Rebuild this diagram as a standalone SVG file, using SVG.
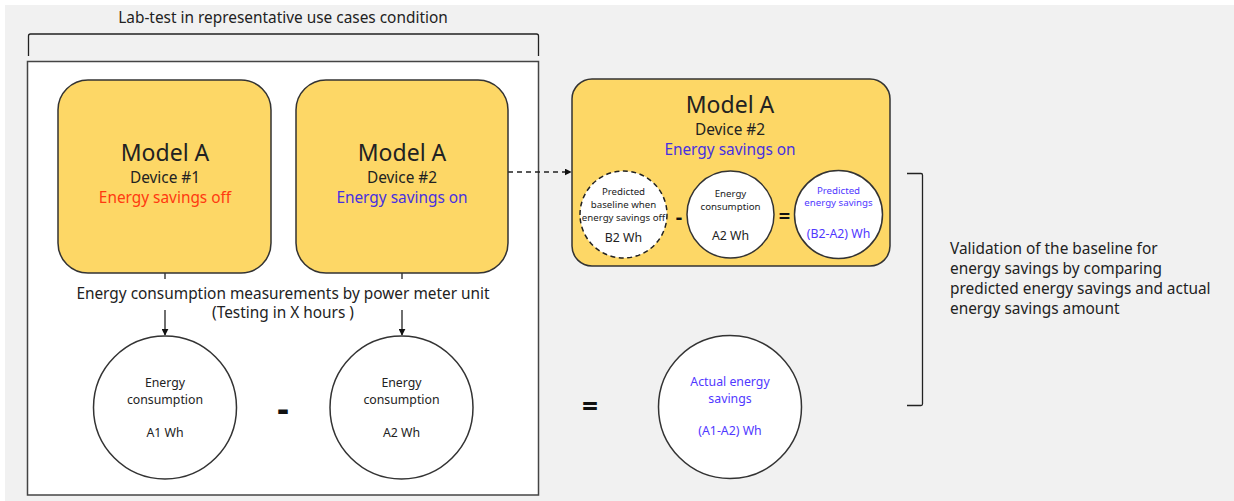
<svg xmlns="http://www.w3.org/2000/svg" width="1234" height="501" viewBox="0 0 1234 501">
<defs>
<style>
text{font-family:"Noto Sans","Liberation Sans",sans-serif;fill:#222;text-anchor:middle}
.yb{fill:#fdd766;stroke:#333;stroke-width:1.5}
.c{fill:#fff;stroke:#333;stroke-width:1.5}
.ln{stroke:#222;stroke-width:1.3;fill:none}
.big{font-size:23px}
.mid{font-size:15.4px}
.sm{font-size:12.3px}
.xs{font-size:9.7px}
.red{fill:#ff3a10}
.blue{fill:#4630e0}
.lb{fill:#5038ff}
.op{font-weight:bold;font-size:28px;fill:#111}
</style>
<marker id="ah" viewBox="0 0 10 10" refX="9" refY="5" markerWidth="7" markerHeight="7" orient="auto" markerUnits="userSpaceOnUse">
<path d="M0,0 L10,5 L0,10 z" fill="#111"/>
</marker>
</defs>
<rect x="0" y="0" width="1234" height="501" fill="#fff"/>
<rect x="5" y="5" width="1229" height="496" fill="#f1f1f1"/>

<g id="title">
<text x="283" y="23" class="mid">Lab-test in representative use cases condition</text>
<path class="ln" d="M28.5,56 V36 Q28.5,34 30.5,34 H536.5 Q538.5,34 538.5,36 V56"/>
</g>

<g id="labbox">
<rect x="27.5" y="61.5" width="511" height="433.5" fill="#fff" stroke="#444" stroke-width="1.5"/>
</g>

<g id="connectors">
<line class="ln" x1="165" y1="273" x2="165" y2="279"/>
<line class="ln" x1="165" y1="310" x2="165" y2="335" marker-end="url(#ah)"/>
<line class="ln" x1="402" y1="273" x2="402" y2="279"/>
<line class="ln" x1="402" y1="310" x2="402" y2="335" marker-end="url(#ah)"/>
<line class="ln" x1="508" y1="172" x2="571" y2="172" stroke-dasharray="5,4" marker-end="url(#ah)"/>
</g>

<g id="device1">
<rect class="yb" x="58" y="80" width="213" height="193" rx="30"/>
<text x="165" y="161" class="big">Model A</text>
<text x="165" y="183" class="mid">Device #1</text>
<text x="165" y="203" class="mid red">Energy savings off</text>
</g>

<g id="device2">
<rect class="yb" x="296" y="80" width="212" height="193" rx="30"/>
<text x="402" y="161" class="big">Model A</text>
<text x="402" y="183" class="mid">Device #2</text>
<text x="402" y="203" class="mid blue">Energy savings on</text>
</g>

<g id="measurement-label">
<text x="283" y="299" class="mid">Energy consumption measurements by power meter unit</text>
<text x="283" y="318" class="mid">(Testing in X hours )</text>
</g>

<g id="a1">
<circle class="c" cx="165" cy="407.5" r="71.5"/>
<text x="165" y="387" class="sm">Energy</text>
<text x="165" y="404" class="sm">consumption</text>
<text x="165" y="437" class="sm">A1 Wh</text>
</g>
<text x="283" y="421" class="op" style="font-size:36px">-</text>
<g id="a2">
<circle class="c" cx="401.5" cy="407.5" r="71.5"/>
<text x="401.5" y="387" class="sm">Energy</text>
<text x="401.5" y="404" class="sm">consumption</text>
<text x="401.5" y="437" class="sm">A2 Wh</text>
</g>
<text x="590" y="416" class="op">=</text>

<g id="actual">
<circle class="c" cx="730" cy="407" r="71.5"/>
<text x="730" y="386" class="sm lb">Actual energy</text>
<text x="730" y="403" class="sm lb">savings</text>
<text x="730" y="435" class="sm lb">(A1-A2) Wh</text>
</g>

<g id="predicted-box">
<rect class="yb" x="572" y="79" width="318" height="187" rx="20"/>
<text x="730" y="113" class="big">Model A</text>
<text x="730" y="135" class="mid">Device #2</text>
<text x="730" y="155" class="mid blue">Energy savings on</text>
</g>

<g id="b2">
<circle cx="623.5" cy="214.5" r="43.5" fill="#fff" stroke="#222" stroke-width="1.5" stroke-dasharray="5,3.5"/>
<text x="623.5" y="195" class="xs">Predicted</text>
<text x="623.5" y="208" class="xs">baseline when</text>
<text x="623.5" y="221" class="xs">energy savings off</text>
<text x="623.5" y="242" class="sm">B2 Wh</text>
</g>
<text x="679" y="224" class="op" style="font-size:20px">-</text>
<g id="a2p">
<circle class="c" cx="730.5" cy="214.5" r="43.5"/>
<text x="730.5" y="197" class="xs">Energy</text>
<text x="730.5" y="210" class="xs">consumption</text>
<text x="730.5" y="240" class="sm">A2 Wh</text>
</g>
<text x="784.5" y="223" class="op" style="font-size:20px">=</text>
<g id="b2a2">
<circle class="c" cx="838.5" cy="214.5" r="44"/>
<text x="838.5" y="194" class="xs lb">Predicted</text>
<text x="838.5" y="206" class="xs lb">energy savings</text>
<text x="838.5" y="238" class="sm lb">(B2-A2) Wh</text>
</g>

<g id="validation">
<path class="ln" d="M907,173.5 H921 Q922.5,173.5 922.5,175 V404 Q922.5,405.5 921,405.5 H907"/>
<text x="950" y="254" class="mid" style="text-anchor:start">Validation of the baseline for</text>
<text x="950" y="274" class="mid" style="text-anchor:start">energy savings by comparing</text>
<text x="950" y="294" class="mid" style="text-anchor:start">predicted energy savings and actual</text>
<text x="950" y="314" class="mid" style="text-anchor:start">energy savings amount</text>
</g>
</svg>
